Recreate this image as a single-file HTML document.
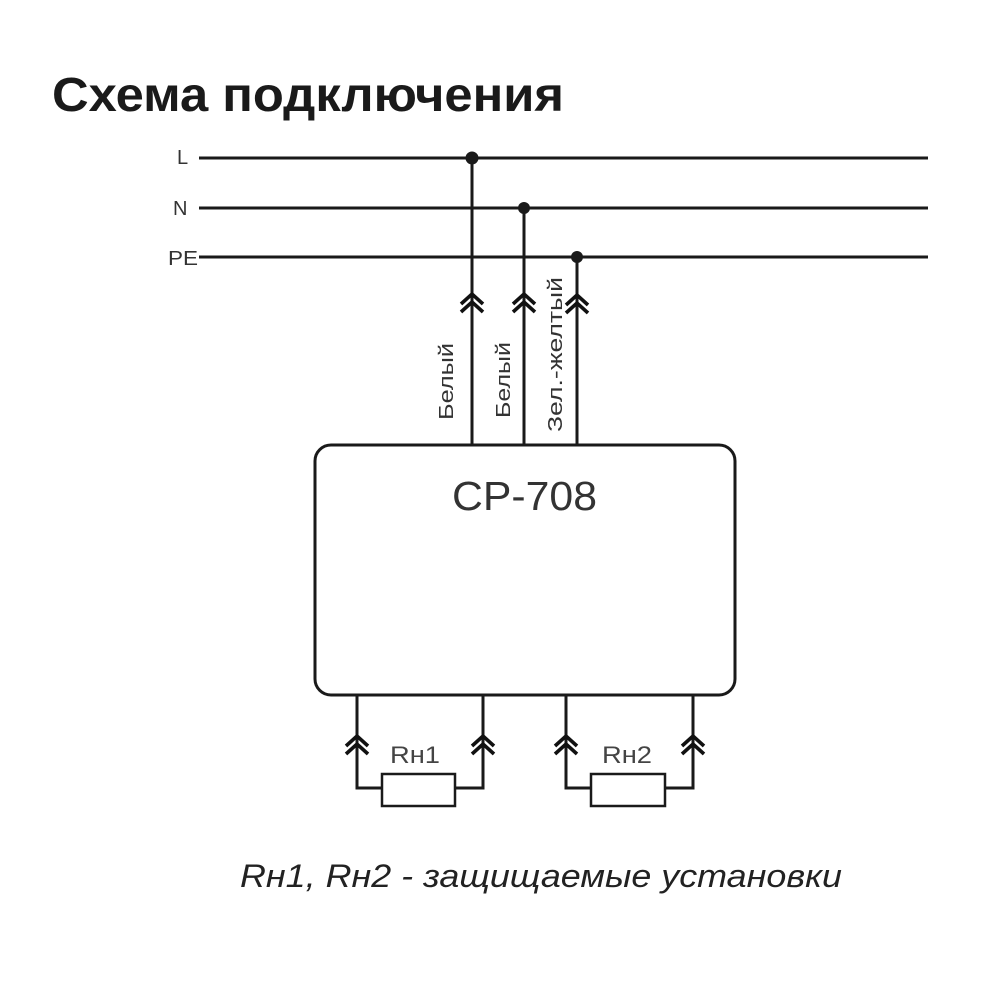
<!DOCTYPE html>
<html>
<head>
<meta charset="utf-8">
<style>
  html, body { margin: 0; padding: 0; background: #ffffff; }
  body { width: 1000px; height: 1000px; overflow: hidden; }
  svg { display: block; }
  text { font-family: "Liberation Sans", "DejaVu Sans", sans-serif; }
</style>
</head>
<body>
<svg width="1000" height="1000" viewBox="0 0 1000 1000" xmlns="http://www.w3.org/2000/svg">
  <rect x="0" y="0" width="1000" height="1000" fill="#ffffff"/>

  <!-- Title -->
  <text x="52" y="111" font-size="48" font-weight="bold" fill="#1a1a1a" textLength="512" lengthAdjust="spacingAndGlyphs">Схема подключения</text>

  <!-- Bus labels -->
  <text x="177" y="164" font-size="20" fill="#333">L</text>
  <text x="173" y="215" font-size="20" fill="#333">N</text>
  <text x="168" y="265" font-size="20" fill="#333" textLength="30" lengthAdjust="spacingAndGlyphs">PE</text>

  <g stroke="#1a1a1a" stroke-width="3" fill="none">
    <!-- Bus lines -->
    <line x1="199" y1="158" x2="928" y2="158"/>
    <line x1="199" y1="208" x2="928" y2="208"/>
    <line x1="199" y1="257" x2="928" y2="257"/>

    <!-- Vertical wires to device -->
    <line x1="472" y1="158" x2="472" y2="446"/>
    <line x1="524" y1="208" x2="524" y2="446"/>
    <line x1="577" y1="257" x2="577" y2="446"/>

    <!-- Device box -->
    <rect x="315" y="445" width="420" height="250" rx="16" ry="16"/>

    <!-- Bottom wires -->
    <polyline points="357,695 357,788 382,788"/>
    <polyline points="483,695 483,788 455,788"/>
    <polyline points="566,695 566,788 591,788"/>
    <polyline points="693,695 693,788 665,788"/>
  </g>

  <!-- Resistors -->
  <g stroke="#1a1a1a" stroke-width="2.5" fill="#ffffff">
    <rect x="382" y="774" width="73" height="32"/>
    <rect x="591" y="774" width="74" height="32"/>
  </g>

  <!-- Junction dots -->
  <g fill="#1a1a1a">
    <circle cx="472" cy="158" r="6.5"/>
    <circle cx="524" cy="208" r="6"/>
    <circle cx="577" cy="257" r="6"/>
  </g>

  <!-- Double chevrons (connectors) -->
  <g stroke="#111" stroke-width="3.6" fill="none" stroke-linejoin="miter">
    <!-- top -->
    <polyline points="461,304 472,294 483,304"/>
    <polyline points="461,312 472,302 483,312"/>
    <polyline points="513,304 524,294 535,304"/>
    <polyline points="513,312 524,302 535,312"/>
    <polyline points="566,305 577,295 588,305"/>
    <polyline points="566,313 577,303 588,313"/>
    <!-- bottom -->
    <polyline points="346,746 357,736 368,746"/>
    <polyline points="346,754 357,744 368,754"/>
    <polyline points="472,746 483,736 494,746"/>
    <polyline points="472,754 483,744 494,754"/>
    <polyline points="555,746 566,736 577,746"/>
    <polyline points="555,754 566,744 577,754"/>
    <polyline points="682,746 693,736 704,746"/>
    <polyline points="682,754 693,744 704,754"/>
  </g>

  <!-- Rotated wire labels -->
  <text transform="translate(453,420) rotate(-90)" font-size="20" fill="#333" textLength="77" lengthAdjust="spacingAndGlyphs">Белый</text>
  <text transform="translate(510,418) rotate(-90)" font-size="20" fill="#333" textLength="76" lengthAdjust="spacingAndGlyphs">Белый</text>
  <text transform="translate(562,432) rotate(-90)" font-size="20" fill="#333" textLength="155" lengthAdjust="spacingAndGlyphs">Зел.-желтый</text>

  <!-- Device name -->
  <text x="452" y="510" font-size="41" fill="#333" textLength="145" lengthAdjust="spacingAndGlyphs">CP-708</text>

  <!-- Resistor labels -->
  <text x="390" y="763" font-size="24" fill="#444" textLength="50" lengthAdjust="spacingAndGlyphs">Rн1</text>
  <text x="602" y="763" font-size="24" fill="#444" textLength="50" lengthAdjust="spacingAndGlyphs">Rн2</text>

  <!-- Caption -->
  <text x="240" y="887" font-size="32" font-style="italic" fill="#222" textLength="602" lengthAdjust="spacingAndGlyphs">Rн1, Rн2 - защищаемые установки</text>
</svg>
</body>
</html>
